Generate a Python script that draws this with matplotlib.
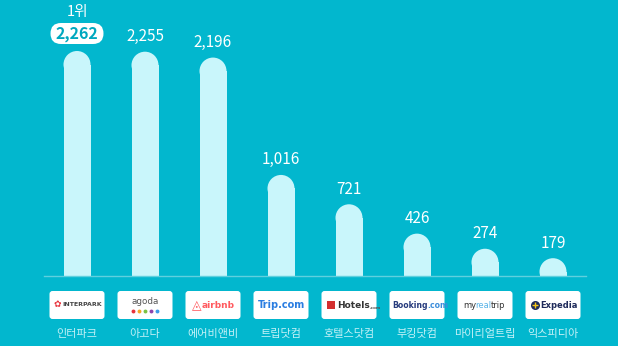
import matplotlib.pyplot as plt
from matplotlib.patches import Rectangle, Ellipse, FancyBboxPatch

plt.rcParams['font.family'] = ['Noto Sans CJK KR', 'DejaVu Sans']

# 데이터
names = ['인터파크', '아고다', '에어비앤비', '트립닷컴', '호텔스닷컴', '부킹닷컴', '마이리얼트립', '익스피디아']
values = [2262, 2255, 2196, 1016, 721, 426, 274, 179]
value_labels = ['2,262', '2,255', '2,196', '1,016', '721', '426', '274', '179']

BG = '#02B7CE'
BAR = '#C9F6FB'
LABEL = '#C4F1F7'

# 픽셀 기준 레이아웃
W, H = 618, 346
x0px, dxpx = 77, 68
base_px = 276
scale = 225 / 2262  # px per unit


def py(y_top):
    return (base_px - y_top) / scale


def wx(px):
    return px / dxpx


def hy(px):
    return px / scale


aspect = (1 / scale) * dxpx

fig = plt.figure(figsize=(W / 100, H / 100), dpi=100)
fig.patch.set_facecolor(BG)
ax = fig.add_axes([0, 0, 1, 1])
ax.set_facecolor(BG)
ax.set_xlim(-x0px / dxpx, (W - x0px) / dxpx)
ax.set_ylim(-(H - base_px) / scale, base_px / scale)
ax.axis('off')

# 막대 (둥근 윗부분)
bw = wx(27)
ry = hy(13.5)
for i, v in enumerate(values):
    ax.add_patch(Rectangle((i - bw / 2, 0), bw, max(v - ry, 0), facecolor=BAR, edgecolor='none'))
    cap = Ellipse((i, v - ry), bw, 2 * ry, facecolor=BAR, edgecolor='none')
    ax.add_patch(cap)
    clip = Rectangle((i - bw, 0), 2 * bw, v * 2, transform=ax.transData)
    cap.set_clip_path(clip)

# 기준선
ax.plot([-0.485, 7.485], [0, 0], color='#5FD0DE', lw=1)

# 값 라벨
for i, (v, lab) in enumerate(zip(values, value_labels)):
    if i == 0:
        ax.add_patch(FancyBboxPatch((i - wx(26.5), v + hy(7)), wx(53), hy(21),
                                    boxstyle='round,pad=0,rounding_size=%f' % wx(10.5),
                                    mutation_aspect=aspect, facecolor='white', edgecolor='none'))
        ax.text(i, v + hy(17.5), lab, ha='center', va='center', fontsize=11.5,
                fontweight='bold', color='#00A8BF')
        ax.text(i, v + hy(39), '1위', ha='center', va='center', fontsize=10.5,
                fontweight='light', color='white')
    else:
        ax.text(i, v + hy(15), lab, ha='center', va='center', fontsize=11,
                fontweight='light', color='white')

# 로고 박스 + 이름
for i, n in enumerate(names):
    ax.add_patch(FancyBboxPatch((i - wx(27.5), py(319)), wx(55), hy(28),
                                boxstyle='round,pad=0,rounding_size=%f' % wx(3),
                                mutation_aspect=aspect, facecolor='white', edgecolor='none'))
    ax.text(i, py(334), n, ha='center', va='center', fontsize=8, color=LABEL)


def logo_text(x, y, parts, weight='normal'):
    # parts: (글자, 색, 크기) 를 왼쪽부터 이어 붙임 (기준선 맞춤)
    s, c, size = parts[0]
    t = ax.text(x, y, s, ha='left', va='baseline', fontsize=size, color=c,
                fontweight=weight, family='DejaVu Sans')
    for s, c, size in parts[1:]:
        t = ax.annotate(s, xy=(1, 0), xycoords=t, xytext=(-0.5, 0), textcoords='offset pixels',
                        ha='left', va='bottom', fontsize=size, color=c, fontweight=weight,
                        family='DejaVu Sans')
    return t


yc = py(305)
yb = py(308)
# INTERPARK
ax.text(0 - wx(20), yc, '✿', ha='center', va='center', fontsize=6.5, color='#E8333C', family='DejaVu Sans')
ax.text(0 - wx(15), yc, 'INTERPARK', ha='left', va='center', fontsize=4.5, color='#444444',
        fontweight='bold', family='DejaVu Sans')
# agoda
ax.text(1, py(301), 'agoda', ha='center', va='center', fontsize=6.3, color='#555555', family='DejaVu Sans')
for k, c in enumerate(['#E8333C', '#F6A623', '#7CC242', '#8E44AD', '#3D9BE9']):
    ax.plot(1 + wx(-12 + 6 * k), py(310.5), 'o', ms=2.8, color=c, mec='none')
# airbnb
ax.text(2 - wx(16), yc, '◬', ha='center', va='center', fontsize=9, color='#FF5A5F', family='DejaVu Sans')
ax.text(2 + wx(5), yc, 'airbnb', ha='center', va='center', fontsize=6.5, color='#FF5A5F',
        fontweight='bold', family='DejaVu Sans')
# Trip.com
ax.text(3, yc, 'Trip.com', ha='center', va='center', fontsize=7, color='#2A7DE1',
        fontweight='bold', family='DejaVu Sans')
# Hotels.com
ax.add_patch(Rectangle((4 - wx(22), yc - hy(4)), wx(8), hy(8), facecolor='#D32F2F', edgecolor='none'))
logo_text(4 - wx(12), yb, [('Hotels', '#333333', 6.5), ('.com', '#555555', 3)], 'bold')
# Booking.com
logo_text(5 - wx(25), yb, [('Booking', '#273B7D', 5.6), ('.com', '#3C8DDA', 5.6)], 'bold')
# myrealtrip
logo_text(6 - wx(22), yb, [('my', '#333333', 6), ('real', '#5AB4E8', 6), ('trip', '#333333', 6)])
# Expedia
ax.plot(7 - wx(18), yc, 'o', ms=6.5, color='#1E2A5A', mec='none')
ax.plot(7 - wx(18), yc, '+', ms=4, color='#F5C518', mew=1)
ax.text(7 - wx(13), yc, 'Expedia', ha='left', va='center', fontsize=6, color='#1E2A5A',
        fontweight='bold', family='DejaVu Sans')

plt.savefig('out.png', dpi=100, facecolor=BG)
